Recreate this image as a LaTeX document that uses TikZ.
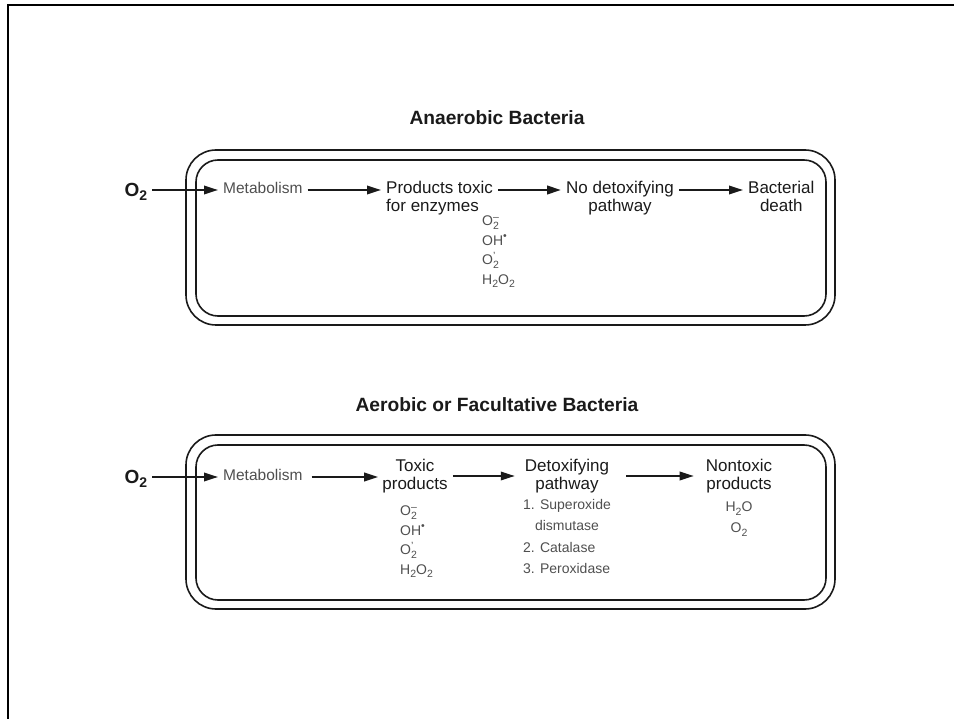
\documentclass[tikz,border=0pt]{standalone}
\usepackage{fontspec}
\setmainfont{Liberation Sans}
\usetikzlibrary{arrows.meta}
\definecolor{ink}{HTML}{1A1A1A}
\definecolor{grayink}{HTML}{4F4F4F}
\newcommand{\csub}[1]{\raisebox{-0.45ex}{\fontsize{10.5}{10.5}\selectfont #1}}
\newcommand{\csup}[1]{\raisebox{0.75ex}{\fontsize{10.5}{10.5}\selectfont #1}}
\newcommand{\osub}[1]{\raisebox{-0.4ex}{\fontsize{14}{14}\selectfont #1}}
\newcommand{\sbsp}[2]{\makebox[0pt][l]{\csup{#2}}\csub{#1}}
\begin{document}
\begin{tikzpicture}[x=1pt,y=-1pt,
  lbl/.style={font=\fontsize{17}{18}\selectfont, text=ink, inner sep=0pt, text height=12pt, text depth=4pt},
  lbltwo/.style={font=\fontsize{17}{18}\selectfont, text=ink, inner sep=0pt, align=center},
  sml/.style={font=\fontsize{15.5}{18}\selectfont, text=grayink, inner sep=0pt, text height=11pt, text depth=3pt},
  spc/.style={font=\fontsize{14}{19.5}\selectfont, text=grayink, inner sep=0pt},
  ttl/.style={font=\bfseries\fontsize{19.2}{22}\selectfont, text=ink, inner sep=0pt},
  oxy/.style={font=\bfseries\fontsize{19}{22}\selectfont, text=ink, inner sep=0pt, text height=13pt, text depth=0pt},
  arr/.style={-{Triangle[length=14pt,width=8.5pt]}, line width=1.8pt, draw=ink, shorten <=5pt, shorten >=5pt},
  arrthick/.style={arr, line width=2.4pt},
  cellbox/.style={line width=1.6pt, draw=ink}]
\useasboundingbox (0,0) rectangle (954,719);
% page frame
\draw[line width=2.6pt, black] (954,5) -- (8,5) -- (8,719);

% ---------------- Anaerobic ----------------
\node[ttl] (t1) at (497,118) {Anaerobic Bacteria};
\draw[cellbox, rounded corners=30pt] (186,150) rectangle (835,325);
\draw[cellbox, rounded corners=22pt] (196,160) rectangle (826,316);

\node[oxy] (ox1) at (136,190) {O\osub{2}};
\node[sml, anchor=west] (met1) at (223,190) {Metabolism};
\node[lbl, anchor=west] (prod) at (386,190) {Products toxic};
\node[lbl, anchor=north west] (enz) at ([yshift=-1.5pt]prod.south west) {for enzymes};
\node[lbl, anchor=west] (nodet) at (566,190) {No detoxifying};
\node[lbl, anchor=north] (pw1) at ([yshift=-1.5pt]nodet.south) {pathway};
\node[lbl, anchor=west] (bact) at (748,190) {Bacterial};
\node[lbl, anchor=north] (death) at ([yshift=-1.5pt]bact.south) {death};
\node[spc, anchor=north west, align=left] (tox1) at (482,216)
  {O\sbsp{2}{--}\\OH\csup{\textbullet}\\O\sbsp{2}{'}\\H\csub{2}O\csub{2}};

\draw[arr] (ox1.east) -- (met1.west);
\draw[arr] (met1.east) -- (prod.west);
\draw[arrthick] (prod.east) -- (nodet.west);
\draw[arr] (nodet.east) -- (bact.west);

% ---------------- Aerobic ----------------
\node[ttl] (t2) at (497,405) {Aerobic or Facultative Bacteria};
\draw[cellbox, rounded corners=30pt] (186,435) rectangle (835,609);
\draw[cellbox, rounded corners=22pt] (196,445) rectangle (826,600);

\node[oxy] (ox2) at (136,477) {O\osub{2}};
\node[sml, anchor=west] (met2) at (223,477) {Metabolism};
\node[lbltwo] (toxp) at (415,476) {Toxic\\products};
\node[lbltwo] (detox) at (567,476) {Detoxifying\\pathway};
\node[lbltwo] (nont) at (739,476) {Nontoxic\\products};

\node[spc, anchor=north west, align=left] (tox2) at (400,506)
  {O\sbsp{2}{--}\\OH\csup{\textbullet}\\O\sbsp{2}{'}\\H\csub{2}O\csub{2}};
\node[spc, anchor=north west, align=left, font=\fontsize{14}{21.5}\selectfont] (enzl) at (523,499)
  {1. Superoxide\\\hspace*{0.85em}dismutase\\2. Catalase\\3. Peroxidase};
\node[spc, anchor=north, align=center, font=\fontsize{14}{21}\selectfont] (nonl) at (739,502)
  {H\csub{2}O\\O\csub{2}};

\draw[arr] (ox2.east) -- (met2.west);
\draw[arr, shorten <=9pt, shorten >=4pt] (met2.east) -- (met2.east -| toxp.west);
\draw[arr, shorten >=10pt] (toxp.east) -- (toxp.east -| detox.west);
\draw[arr, shorten <=17pt, shorten >=12pt] (detox.east) -- (detox.east -| nont.west);
\end{tikzpicture}
\end{document}
